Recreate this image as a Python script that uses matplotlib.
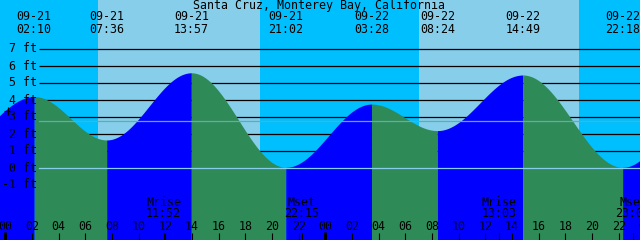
import numpy as np
import matplotlib
matplotlib.use('Agg')
import matplotlib.pyplot as plt

# ---------------- data ----------------
title = "Santa Cruz, Monterey Bay, California"
# tide extremes (hours since 09-21 00:00, feet); first and last lie outside the view
tide_hours = [-4.3, 2.167, 7.6, 13.95, 21.033, 27.467, 32.4, 38.817, 46.3, 52.5]
tide_feet = [1.0, 4.2, 1.65, 5.6, 0.04, 3.76, 2.2, 5.47, 0.04, 3.9]
tide_dates = ["09-21", "09-21", "09-21", "09-21", "09-22", "09-22", "09-22", "09-22"]
tide_times = ["02:10", "07:36", "13:57", "21:02", "03:28", "08:24", "14:49", "22:18"]
# sunrise / sunset (hours)
sun_hours = [6.93, 19.1, 31.05, 43.03]
# moon events
moon_hours = [11.867, 22.25, 37.05, 47.083]
moon_kind = ["Mrise", "Mset", "Mrise", "Mset"]
moon_times = ["11:52", "22:15", "13:03", "23:05"]
ft_levels = [7, 6, 5, 4, 3, 2, 1, 0, -1]
msl_ft = 2.79

# ---------------- layout helpers ----------------
PX_PER_H = 13.333
X_ORIGIN = 5.33
PX_PER_FT = 17.0
Y_ZERO = 168.0

def hx(px):
    return (px - X_ORIGIN) / PX_PER_H

def fy(py):
    return (Y_ZERO - py) / PX_PER_FT

X0, X1 = hx(0), hx(640)
Y0, Y1 = fy(240), fy(0)

NIGHT = '#00BFFF'
DAY = '#87CEEB'
RISE = '#0000FF'
FALL = '#2E8B57'
FONT = dict(family='DejaVu Sans Mono', fontsize=8.4, color='black')

fig = plt.figure(figsize=(6.4, 2.4), dpi=100)
ax = fig.add_axes([0, 0, 1, 1])
ax.set_xlim(X0, X1)
ax.set_ylim(Y0, Y1)
ax.axis('off')

# sky
edges = [X0] + sun_hours + [X1]
for i in range(len(edges) - 1):
    ax.axvspan(edges[i], edges[i + 1], color=NIGHT if i % 2 == 0 else DAY, lw=0, zorder=0)

# foot lines (behind water)
xs = hx(39)
for f in range(1, 8):
    ax.plot([xs, X1], [f, f], color='black', lw=0.9, zorder=1, solid_capstyle='butt')

# water
for i in range(len(tide_hours) - 1):
    t0, t1 = tide_hours[i], tide_hours[i + 1]
    h0, h1 = tide_feet[i], tide_feet[i + 1]
    t = np.linspace(t0, t1, 200)
    h = h0 + (h1 - h0) * (1 - np.cos(np.pi * (t - t0) / (t1 - t0))) / 2
    ax.fill_between(t, h, Y0, color=RISE if h1 > h0 else FALL, lw=0, zorder=2)

# light reference lines (on top of water)
ax.plot([xs, X1], [0, 0], color='#87CEEB', lw=0.9, zorder=3)
ax.plot([xs, X1], [msl_ft, msl_ft], color='#66AAAA', lw=0.9, zorder=3)

# foot labels
for f in ft_levels:
    ax.text(hx(36.5), f, f"{f} ft", ha='right', va='center', zorder=5, **FONT)

# marker
ax.plot(hx(7.8), fy(111.3), marker='+', ms=6, mew=0.9, color='black', zorder=5)

# title and tide labels
ax.text(hx(319), fy(6), title, ha='center', va='center', zorder=5, **FONT)
for t, d, s in zip(tide_hours[1:-1], tide_dates, tide_times):
    ax.text(t, fy(17), d, ha='center', va='center', zorder=5, **FONT)
    ax.text(t, fy(29.5), s, ha='center', va='center', zorder=5, **FONT)

# moon labels
for t, k, s in zip(moon_hours, moon_kind, moon_times):
    ax.text(t, fy(202), k, ha='center', va='center', zorder=5, **FONT)
    ax.text(t, fy(213.5), s, ha='center', va='center', zorder=5, **FONT)
    ax.plot([t, t], [fy(232.5), Y0], color='black', lw=0.8, zorder=4)

# hour axis
for hr in range(0, 49, 2):
    ax.text(hr, fy(226), f"{hr % 24:02d}", ha='center', va='center', zorder=5, **FONT)
    if hr % 24 == 0:
        ax.plot([hr, hr], [fy(231.5), Y0], color='black', lw=2.2, zorder=4, solid_capstyle='butt')
    else:
        ax.plot([hr, hr], [fy(232.5), Y0], color='black', lw=0.8, zorder=4, solid_capstyle='butt')

fig.savefig('out.png', dpi=100)
